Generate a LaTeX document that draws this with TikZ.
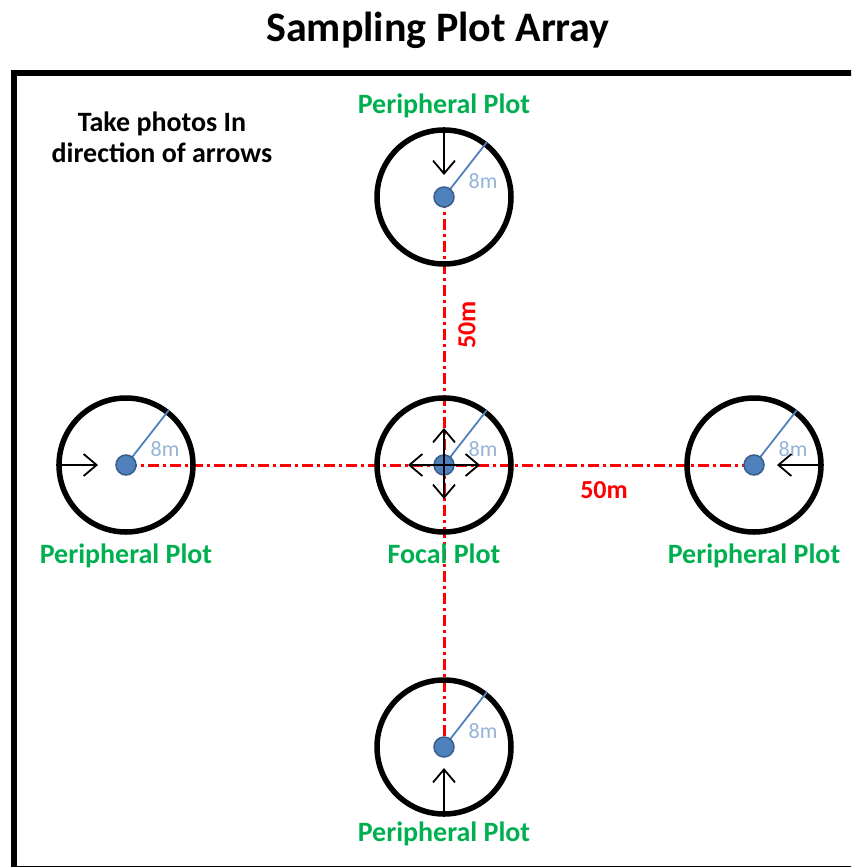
\documentclass[tikz,border=0pt]{standalone}
\usepackage{fontspec}
\setmainfont{Carlito}
\usetikzlibrary{arrows.meta,positioning,backgrounds}
\definecolor{plotGreen}{HTML}{00B050}
\definecolor{axisRed}{HTML}{FF0000}
\definecolor{stakeFill}{HTML}{4F81BD}
\definecolor{stakeEdge}{HTML}{385D8A}
\definecolor{radTxt}{HTML}{95B3D7}
\tikzset{
  plotring/.style={circle, draw, line width=5.5pt, minimum size=134pt, inner sep=0pt},
  stake/.style={circle, fill=stakeFill, draw=stakeEdge, line width=1.5pt, minimum size=20pt, inner sep=0pt},
  radline/.style={stakeFill, line width=1.8pt},
  radlbl/.style={text=radTxt, font=\fontsize{22}{24}\selectfont, inner sep=1pt},
  axis/.style={axisRed, line width=3pt, dash pattern=on 11pt off 4pt on 3pt off 4pt},   % plot-to-plot transect
  axislbl/.style={text=axisRed, font=\fontsize{26}{28}\selectfont\bfseries, inner sep=1pt},
  look/.style={-{Straight Barb[length=13pt,width=22pt]}, line width=1.8pt},          % photo direction
  plotname/.style={text=plotGreen, font=\fontsize{28}{31}\selectfont\bfseries},
  hint/.style={font=\fontsize{28}{31}\selectfont\bfseries, align=center},
  ttl/.style={font=\fontsize{42}{46}\selectfont\bfseries},
}

\begin{document}
\begin{tikzpicture}[x=1pt,y=-1pt]
  \useasboundingbox (0,0) rectangle (851,867);
  \clip (0,0) rectangle (851,867);

  \node[ttl] (title) at (438,30) {Sampling Plot Array};
  % frame runs off the right and bottom edges
  \draw[line width=6pt] (14,73) rectangle (880,869);
  \node[hint] (howto) at (162,137) {Take photos In\\direction of arrows};

  % plot rings and centre stakes
  \foreach \n/\x/\y in {pc/444/465, pn/444/197, ps/444/747, pw/126/465, pe/754/465}{
    \node[plotring] (\n) at (\x,\y) {};
    \draw[radline] (\x,\y) -- (\n.52);
    \node[radlbl] (\n m) at ([xshift=39pt,yshift=16pt]\n.center) {8m};
  }

  % 50 m transects between stakes
  \begin{pgfonlayer}{background}
    \draw[axis] (pw.center) -- (pc.center) -- (pe.center);
    \draw[axis] (pn.center) -- (pc.center) -- (ps.center);
  \end{pgfonlayer}
  \node[axislbl, rotate=90] (dns) at (467,325) {50m};
  \node[axislbl] (dwe) at (604,490) {50m};

  \foreach \n in {pc,pn,ps,pw,pe}{\node[stake] (\n s) at (\n.center) {};}

  % photo directions
  \coordinate (lkw) at (408,465);
  \coordinate (lke) at (480,465);
  \coordinate (lkn) at (444,428);
  \coordinate (lks) at (444,499);
  \draw[look] (pc.center) -- (lkw);
  \draw[look] (pc.center) -- (lke);
  \draw[look] (pc.center) -- (lkn);
  \draw[look] (pc.center) -- (lks);
  \coordinate (inw) at (98,465);
  \coordinate (ine) at (777,465);
  \coordinate (inn) at (444,175);
  \coordinate (ins) at (444,768);
  \draw[look] (pw.west) -- (inw);
  \draw[look] (pe.east) -- (ine);
  \draw[look] (pn.north) -- (inn);
  \draw[look] (ps.south) -- (ins);

  \node[plotname, above=6pt of pn] (lbln) {Peripheral Plot};
  \node[plotname, below=6pt of pw] (lblw) {Peripheral Plot};
  \node[plotname, below=6pt of pc] (lblc) {Focal Plot};
  \node[plotname, below=6pt of pe] (lble) {Peripheral Plot};
  \node[plotname, below=2pt of ps] (lbls) {Peripheral Plot};
\end{tikzpicture}
\end{document}
